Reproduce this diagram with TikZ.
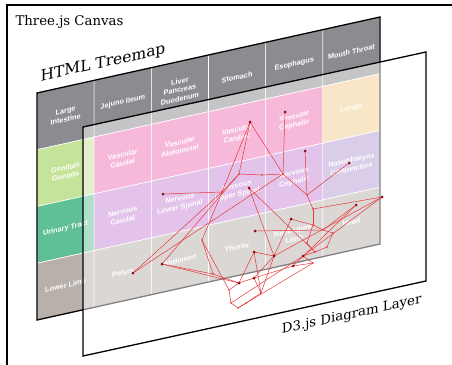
\documentclass[tikz,border=0pt]{standalone}
\usepackage{fontspec}
\setmainfont{DejaVu Serif}
\newfontfamily\cellfont{Liberation Sans}
\definecolor{hdgray}{HTML}{8B8C8F}
\definecolor{gonad}{HTML}{C5E49A}
\definecolor{urinary}{HTML}{5FBF95}
\definecolor{vasc}{HTML}{EE74B6}
\definecolor{nerv}{HTML}{C888D4}
\definecolor{nasal}{HTML}{B49CD6}
\definecolor{lung}{HTML}{F4CC92}
\definecolor{region}{HTML}{B8B0AA}
\definecolor{netred}{HTML}{E8383C}
\definecolor{dotred}{HTML}{8B0A0A}
\tikzset{
  cell/.style={fill=#1,draw=white,line width=0.6pt},
  celltext/.style={text=white,font=\cellfont\bfseries\fontsize{7.3}{8.8}\selectfont,align=center,transform shape},
  panel/.style={draw=black,line width=1.3pt},
  caption/.style={font=\fontsize{13.3}{15}\selectfont},
  link/.style={netred,line width=0.5pt},
  hub/.style={circle,fill=dotred,inner sep=0pt,minimum size=3pt},
  joint/.style={circle,fill=netred,inner sep=0pt,minimum size=1.6pt}
}
\begin{document}
\begin{tikzpicture}[x=1pt,y=-1pt]
  \useasboundingbox (0,0) rectangle (452,364);
  \begin{scope}
   \clip (0,0) rectangle (452,364);
   \draw[line width=2pt] (7,5) rectangle (470,380);
  \end{scope}
  \node[caption,anchor=base west] (canvas) at (12,25) {Three.js Canvas};
  % back layer: treemap
  \begin{scope}[shift={(37,93)},cm={1,0.2216,0,1,(0,0)}]
   \foreach \i/\j/\c/\t in {0/0/hdgray/{Large\\Intestine},1/0/hdgray/{Jejuno Ileum},
      2/0/hdgray/{Liver\\Pancreas\\Duodenum},3/0/hdgray/{Stomach},4/0/hdgray/{Esophagus},
      5/0/hdgray/{Mouth Throat},
      0/1/gonad/{Genitals\\Gonads},1/1/vasc/{Vascular\\Caudal},2/1/vasc/{Vascular\\Abdominal},
      3/1/vasc/{Vascular\\Cardiac},4/1/vasc/{Vascular\\Cephalic},5/1/lung/{Lungs},
      0/2/urinary/{Urinary Tract},1/2/nerv/{Nervous\\Caudal},2/2/nerv/{Nervous\\Lower Spinal},
      3/2/nerv/{Nervous\\Upper Spinal},4/2/nerv/{Nervous\\Cephalic},5/2/nasal/{Nasopharynx\\Conjunctiva},
      0/3/region/{Lower Limb},1/3/region/{Pelvis},2/3/region/{Abdomen},
      3/3/region/{Thorax},4/3/region/{Neck Upper\\Limb},5/3/region/{Head}}
   {
    \path[cell=\c] ({\i*57.17},{\j*56.75}) rectangle ++(57.17,56.75);
    \node[celltext] (tm\i\j) at ({(\i+0.5)*57.17},{(\j+0.5)*56.75}) {\t};
   }
   \draw[panel] (0,0) rectangle (343,227);
   \node[font=\fontsize{15.5}{17}\selectfont,anchor=base west,transform shape] (treemap) at (0,-11) {HTML Treemap};
  \end{scope}
  % front layer: diagram
  \begin{scope}[shift={(83,127)},cm={1,0.2187,0,1,(0,0)}]
   \fill[white,opacity=0.5] (0,0) rectangle (343,229);
   \draw[panel] (0,0) rectangle (343,229);
   \node[caption,anchor=base east,transform shape] (layer) at (342,250) {D3.js Diagram Layer};
  \end{scope}
  % network
  \foreach \n/\x/\y in {vcep/285/112,vcar/250/122,ncep/305/151,naso/349/163,nups/249/188,
     nlsp/163/194,heada/382/197,headb/356/205,neck/291/219,thor/255/231,thorb/254/252,
     pelv/133/273,abdo/162/264,lwa/303/256,lwb/293/266,lwc/274/256,lwd/239/283,lwe/254/278,
     ja/222/192,jb/239/174,jc/262/175,jd/283/174,je/202/240,jf/213/274,jg/307/195,
     jh/313/209,ji/313/225,jj/323/230,jk/333/233,jl/327/247,jm/315/252,jn/313/263,
     jo/229/290,jp/231/303,jq/238/308,jr/261/293,js/246/303,jt/307/243}
    \coordinate (\n) at (\x,\y);
  \foreach \a/\b in {vcep/jd,vcar/jb,vcar/ja,vcar/jd,jb/jc,jc/jd,jb/ja,nlsp/ja,ja/pelv,
     jd/pelv,ja/je,je/jf,jf/abdo,abdo/jb,jd/jg,ncep/jg,naso/jg,jg/jh,jh/ji,ji/jj,jj/jk,
     jk/jl,jl/jm,jm/jt,jt/ji,neck/ji,heada/jh,heada/lwc,heada/lwa,headb/jj,headb/lwb,
     thor/jj,thorb/lwc,nups/jm,nups/lwc,jf/lwd,je/jo,lwd/jo,jo/jp,jp/jq,jq/js,js/jr,
     jr/lwe,lwe/lwd,lwe/lwb,lwb/jn,jn/lwa,lwa/jm,thorb/lwd,thorb/jr,lwc/jr,lwc/lwe,
     jn/jq,lwa/jp,neck/lwc,abdo/lwd}
    \draw[link] (\a) -- (\b);
  \foreach \n in {vcep,vcar,ncep,naso,nups,nlsp,heada,headb,neck,thor,thorb,pelv,abdo,
     lwa,lwb,lwc,lwd,lwe}
    \node[hub] at (\n) {};
  \foreach \n in {ja,jb,jc,jd,je,jf,jg,jh,ji,jj,jk,jl,jm,jn,jo,jp,jq,jr,js,jt}
    \node[joint] at (\n) {};
\end{tikzpicture}
\end{document}
